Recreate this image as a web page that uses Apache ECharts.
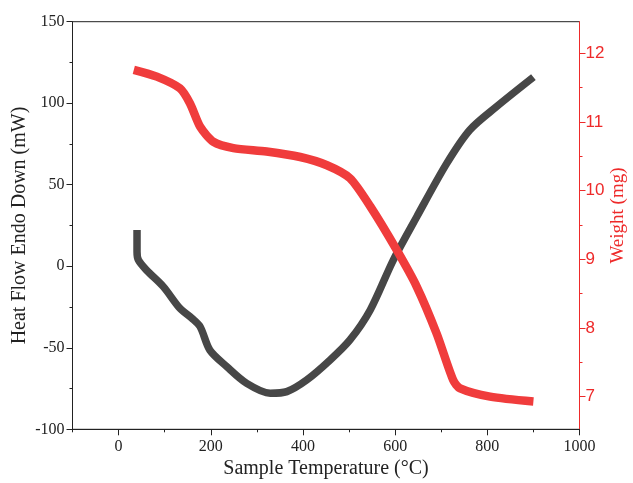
<!DOCTYPE html>
<html>
<head>
<meta charset="utf-8">
<script src="https://cdn.jsdelivr.net/npm/echarts@6/dist/echarts.min.js"></script>
<style>
  html, body { margin: 0; padding: 0; background: #fff; }
  #chart { width: 633px; height: 483px; }
</style>
</head>
<body>
<div id="chart"></div>
<script>
// DSC heat flow (left axis) and TGA weight (right axis) versus sample temperature
var heatTemp = [40, 40, 43, 61, 97, 133, 159, 177, 198, 235, 278, 329, 365, 408, 459, 502, 546, 596, 647, 712, 762, 820, 900];
var heatFlow = [22.2, 8.9, 3.8, -2.5, -12.5, -25.8, -31.9, -37.1, -51.4, -61.6, -71.8, -77.9, -76.9, -69.8, -57.5, -45.2, -26.8, 3.8, 30.4, 63.1, 83.6, 97.9, 116];

var weightTemp = [33, 83, 133, 155, 177, 206, 249, 321, 394, 452, 502, 546, 603, 647, 690, 726, 741, 806, 900];
var weight = [11.76, 11.66, 11.49, 11.27, 10.93, 10.71, 10.62, 10.57, 10.49, 10.37, 10.18, 9.77, 9.14, 8.60, 7.92, 7.24, 7.12, 7.00, 6.93];

var tempTicks = [0, 200, 400, 600, 800, 1000];
var tempMinorTicks = [-100, 100, 300, 500, 700, 900];
var weightTicks = [7, 8, 9, 10, 11, 12];
var weightMinorTicks = [7.5, 8.5, 9.5, 10.5, 11.5];

var serif = '"Liberation Serif", "Times New Roman", serif';
var sans = '"Liberation Sans", Arial, sans-serif';
var ink = '#222';
var red = '#ee2a2a';

function plain(v) { return String(v); }

var chart = echarts.init(document.getElementById('chart'), null, { renderer: 'canvas' });

chart.setOption({
  animation: false,
  backgroundColor: '#fff',
  grid: {
    left: 72.5, right: 53.5, top: 21.7, bottom: 53.7,
    show: true, borderColor: ink, borderWidth: 1,
    outerBoundsMode: 'none'
  },
  xAxis: [
    {
      type: 'value', min: -100, max: 1000, position: 'bottom',
      axisLine: { show: true, onZero: false, lineStyle: { color: ink, width: 1 } },
      axisTick: { show: true, inside: false, length: 6, customValues: tempTicks, lineStyle: { color: ink } },
      axisLabel: { show: true, customValues: tempTicks, formatter: plain, margin: 9, color: ink, fontFamily: serif, fontSize: 16 },
      splitLine: { show: false },
      name: 'Sample Temperature (°C)', nameLocation: 'middle', nameGap: 29, nameMoveOverlap: false,
      nameTextStyle: { color: ink, fontFamily: serif, fontSize: 20 }
    },
    {
      type: 'value', min: -100, max: 1000, position: 'bottom',
      axisLine: { show: false, onZero: false },
      axisTick: { show: true, inside: false, length: 3, customValues: tempMinorTicks, lineStyle: { color: ink } },
      axisLabel: { show: false },
      splitLine: { show: false }
    }
  ],
  yAxis: [
    {
      type: 'value', min: -100, max: 150, interval: 50, position: 'left',
      axisLine: { show: true, onZero: false, lineStyle: { color: ink, width: 1 } },
      axisTick: { show: true, inside: false, length: 6, lineStyle: { color: ink } },
      minorTick: { show: true, splitNumber: 2, length: 3, lineStyle: { color: ink } },
      axisLabel: { color: ink, formatter: plain, fontFamily: serif, fontSize: 16, margin: 8 },
      splitLine: { show: false },
      name: 'Heat Flow Endo Down (mW)', nameLocation: 'middle', nameGap: 43, nameRotate: 90, nameMoveOverlap: false,
      nameTextStyle: { color: ink, fontFamily: serif, fontSize: 20 }
    },
    {
      type: 'value', min: 6.525, max: 12.46, position: 'right',
      axisLine: { show: true, onZero: false, lineStyle: { color: red, width: 1 } },
      axisTick: { show: true, inside: false, length: 6, customValues: weightTicks, lineStyle: { color: red } },
      axisLabel: { customValues: weightTicks, formatter: plain, color: red, fontFamily: sans, fontSize: 17, margin: 6 },
      splitLine: { show: false },
      name: 'Weight (mg)', nameLocation: 'middle', nameGap: 29, nameRotate: 90, nameMoveOverlap: false,
      nameTextStyle: { color: red, fontFamily: serif, fontSize: 19, padding: [0, 0, 0, 20] }
    },
    {
      type: 'value', min: 6.525, max: 12.46, position: 'right',
      axisLine: { show: false, onZero: false },
      axisTick: { show: true, inside: false, length: 3, customValues: weightMinorTicks, lineStyle: { color: red } },
      axisLabel: { show: false },
      splitLine: { show: false }
    }
  ],
  series: [
    {
      name: 'Heat Flow', type: 'line', xAxisIndex: 0, yAxisIndex: 0,
      data: heatTemp.map(function (t, i) { return [t, heatFlow[i]]; }),
      smooth: 0.3, showSymbol: false, symbol: 'none',
      lineStyle: { color: '#474747', width: 7.5, cap: 'butt', join: 'round' },
      z: 3
    },
    {
      name: 'Weight', type: 'line', xAxisIndex: 0, yAxisIndex: 1,
      data: weightTemp.map(function (t, i) { return [t, weight[i]]; }),
      smooth: 0.25, showSymbol: false, symbol: 'none',
      lineStyle: { color: '#f03c3c', width: 8.5, cap: 'butt', join: 'round' },
      z: 4
    }
  ]
});
</script>
</body>
</html>
